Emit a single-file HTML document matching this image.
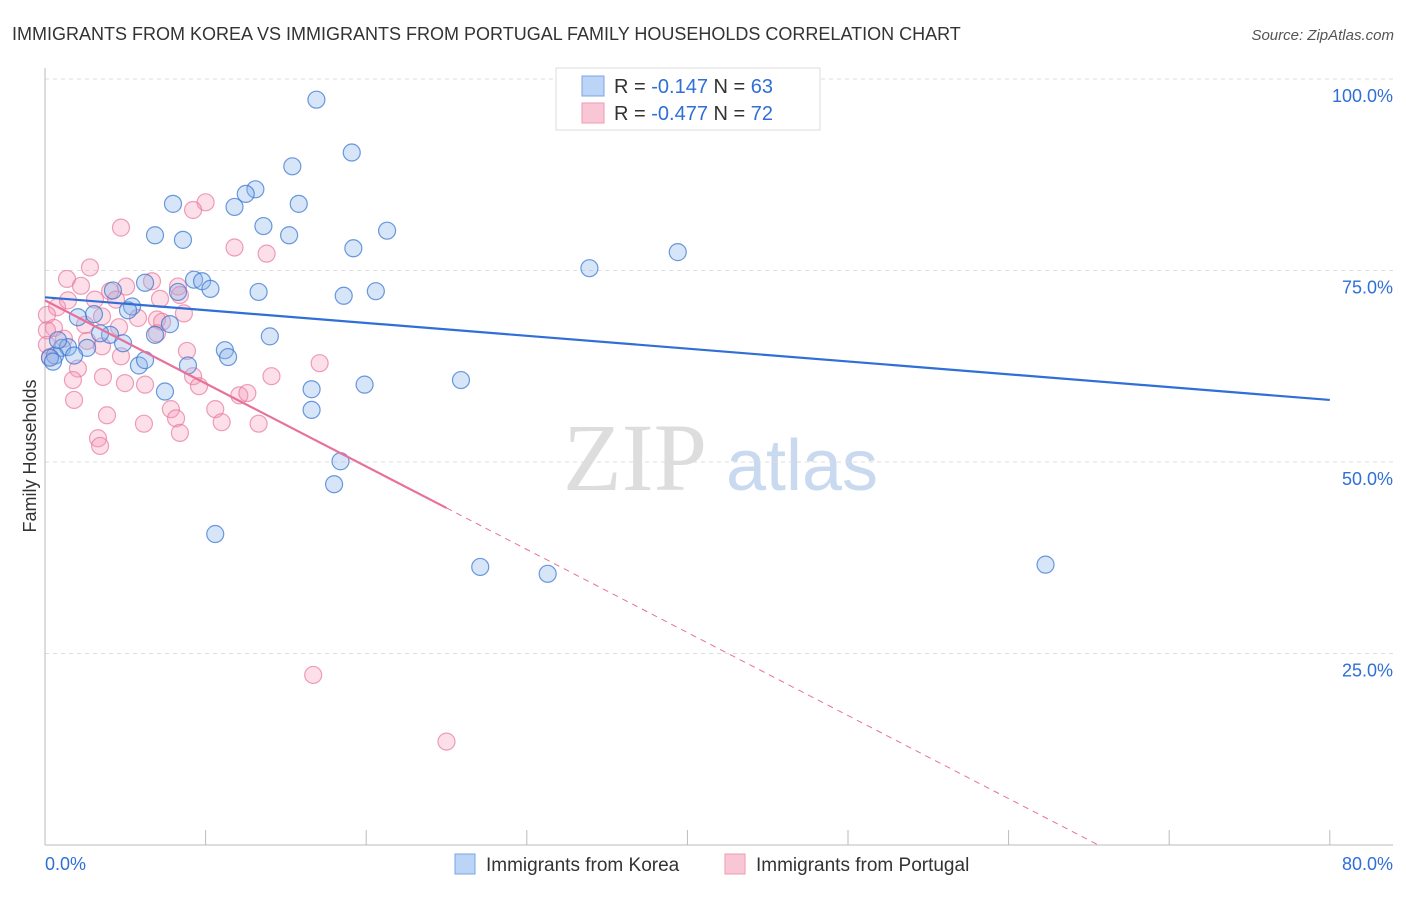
<!DOCTYPE html>
<html><head><meta charset="utf-8"><style>
body{margin:0;background:#fff;font-family:"Liberation Sans",sans-serif}
</style></head><body>
<svg id="c" width="1406" height="892" xmlns="http://www.w3.org/2000/svg">
<text x="12" y="40" font-size="18" fill="#333">IMMIGRANTS FROM KOREA VS IMMIGRANTS FROM PORTUGAL FAMILY HOUSEHOLDS CORRELATION CHART</text>
<text x="1394" y="40" font-size="15" fill="#555" text-anchor="end" font-style="italic">Source: ZipAtlas.com</text>
<text x="36" y="456" font-size="18" fill="#333" text-anchor="middle" transform="rotate(-90 36 456)">Family Households</text>
<g><text x="635" y="490" font-size="96" fill="#ddd" font-family="Liberation Serif,serif" text-anchor="middle">ZIP</text><text x="802" y="490" font-size="72" fill="#c9d9ef" text-anchor="middle">atlas</text></g>
<g id="grid"></g><g id="pts"></g><g id="lines"></g>
<g>
<rect x="556" y="68" width="264" height="62" fill="#fff" stroke="#ddd"/>
<rect x="582" y="76" width="22" height="20" fill="#bcd4f5" stroke="#7aa6e8"/>
<rect x="582" y="103" width="22" height="20" fill="#f9c6d5" stroke="#ef9ab4"/>
<text x="614" y="93" font-size="20" fill="#333">R = <tspan fill="#2f6fd6">-0.147</tspan>   N = <tspan fill="#2f6fd6">63</tspan></text>
<text x="614" y="120" font-size="20" fill="#333">R = <tspan fill="#2f6fd6">-0.477</tspan>   N = <tspan fill="#2f6fd6">72</tspan></text>
</g>
<g>
<rect x="455" y="854" width="20" height="20" fill="#bcd4f5" stroke="#7aa6e8"/>
<text x="486" y="871" font-size="19" fill="#333">Immigrants from Korea</text>
<rect x="725" y="854" width="20" height="20" fill="#f9c6d5" stroke="#ef9ab4"/>
<text x="756" y="871" font-size="19" fill="#333">Immigrants from Portugal</text>
</g>
<text x="45" y="870" font-size="18" fill="#2f6fd6">0.0%</text>
<text x="1393" y="870" font-size="18" fill="#2f6fd6" text-anchor="end">80.0%</text>
</svg>
<script>
const yTicks=[100,75,50,25];
const yTickLabels=["100.0%","75.0%","50.0%","25.0%"];
const xTicks=[0,10,20,30,40,50,60,70,80];
const koreaX=[16.9,19.1,15.4,13.1,12.5,7.97,11.8,15.8,6.85,8.59,13.6,15.2,21.3,19.2,33.9,39.4,9.28,9.78,6.23,8.28,10.3,13.3,18.6,20.6,5.42,3.05,5.17,2.05,7.78,4.05,3.43,6.85,1.06,2.62,14.0,4.86,1.43,1.81,11.2,11.4,0.62,0.31,5.85,0.50,8.90,16.6,19.9,25.9,7.47,16.6,18.4,18.0,10.6,27.1,31.3,62.3,6.23,0.81,4.23];
const koreaY=[97.3,90.4,88.6,85.6,85.0,83.7,83.3,83.7,79.6,79.0,80.8,79.6,80.2,77.9,75.3,77.4,73.8,73.6,73.4,72.2,72.6,72.2,71.7,72.3,70.3,69.3,69.8,68.9,68.0,66.6,66.8,66.6,64.9,64.9,66.4,65.5,65.0,63.9,64.6,63.7,63.9,63.6,62.6,63.1,62.6,59.5,60.1,60.7,59.2,56.8,50.1,47.1,40.6,36.3,35.4,36.6,63.3,65.9,72.4];
const portX=[4.73,10.0,9.22,11.8,13.8,2.80,1.37,2.24,4.05,6.66,8.28,5.05,3.11,0.75,1.43,7.16,0.12,3.55,4.61,5.79,8.65,6.97,7.29,0.56,2.49,0.12,6.97,1.18,2.62,3.55,8.84,4.73,2.05,17.1,1.74,3.61,4.98,6.23,9.22,9.59,12.1,12.6,14.1,1.81,3.86,7.84,8.16,10.6,11.0,6.16,8.40,3.30,3.43,13.3,16.7,25.0,0.12,0.31,4.42,8.40];
const portY=[80.6,83.9,82.9,78.0,77.2,75.4,73.9,73.0,72.3,73.6,72.9,72.9,71.2,70.2,71.1,71.3,69.2,69.0,67.6,68.8,69.4,68.6,68.3,67.5,67.9,67.2,66.8,66.1,65.8,65.1,64.5,63.8,62.2,62.9,60.7,61.1,60.3,60.1,61.2,59.9,58.7,59.0,61.2,58.1,56.1,56.9,55.7,56.9,55.2,55.0,53.8,53.1,52.1,55.0,22.2,13.5,65.3,63.7,71.2,71.8];
const blueTrend=[71.5,58.1];
const pinkTrend=[71.1,44.0,25.0];
const X=v=>45+v*16.06, Y=v=>845-v*7.66;
const NS="http://www.w3.org/2000/svg";
function mk(t,a,p){const e=document.createElementNS(NS,t);for(const k in a)e.setAttribute(k,a[k]);p.appendChild(e);return e;}
const g=document.getElementById('grid');
yTicks.forEach((t,i)=>{
const l=mk('line',{x1:45,x2:1393,y1:Y(t),y2:Y(t),stroke:'#ddd','stroke-dasharray':'4,4'},g);


const tx=mk('text',{x:1393,y:Y(t)+23,'font-size':18,fill:'#2f6fd6','text-anchor':'end'},g);
tx.textContent=yTickLabels[i];


});
const ax=mk('line',{x1:45,x2:45,y1:68,y2:845,stroke:'#bbb'},g);


const bx=mk('line',{x1:45,x2:1393,y1:845,y2:845,stroke:'#bbb'},g);


xTicks.forEach(t=>{const l=mk('line',{x1:X(t),x2:X(t),y1:830,y2:845,stroke:'#bbb'},g);

});
const p=document.getElementById('pts');
portX.forEach((x,i)=>{const c=mk('circle',{cx:X(x),cy:Y(portY[i]),r:8.5,fill:'rgba(244,150,180,0.3)',stroke:'rgba(232,120,155,0.7)','stroke-width':1.2},p);

});
koreaX.forEach((x,i)=>{const c=mk('circle',{cx:X(x),cy:Y(koreaY[i]),r:8.5,fill:'rgba(140,180,235,0.35)',stroke:'rgba(60,120,210,0.75)','stroke-width':1.2},p);

});
const L=document.getElementById('lines');
const b=mk('line',{x1:X(0),y1:Y(blueTrend[0]),x2:X(80),y2:Y(blueTrend[1]),stroke:'#2f6fd6','stroke-width':2.2},L);


const s=(pinkTrend[1]-pinkTrend[0])/pinkTrend[2];
const ps=mk('line',{x1:X(0),y1:Y(pinkTrend[0]),x2:X(pinkTrend[2]),y2:Y(pinkTrend[1]),stroke:'#e8719a','stroke-width':2.2},L);


const xe=-pinkTrend[0]/s;
const pd=mk('line',{x1:X(pinkTrend[2]),y1:Y(pinkTrend[1]),x2:X(xe),y2:Y(0),stroke:'#e8719a','stroke-width':1,'stroke-dasharray':'6,5'},L);


</script>
</body></html>
